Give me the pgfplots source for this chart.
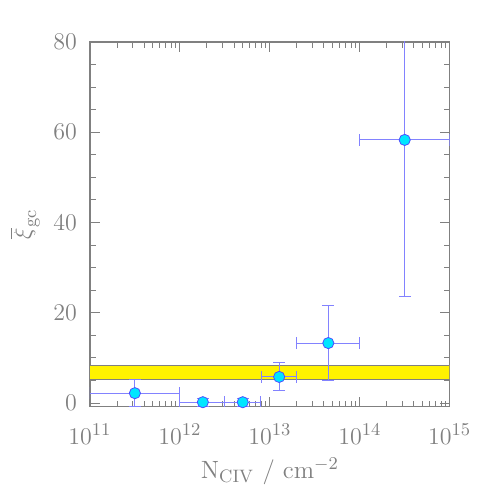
\documentclass[border=0pt]{standalone}
\usepackage{pgfplots}
\pgfplotsset{compat=1.18}

\definecolor{axgray}{RGB}{128,128,128}
\definecolor{errblue}{RGB}{130,130,255}
\definecolor{ptcyan}{RGB}{0,230,255}

\begin{document}
\begin{tikzpicture}
\begin{axis}[
  name=main,
  scale only axis,
  width=180pt, height=182.5pt,
  xmode=log,
  xmin=1e11, xmax=1e15,
  ymin=-0.8, ymax=80,
  ytick={0,20,40,60,80},
  minor ytick={5,10,15,25,30,35,45,50,55,65,70,75},
  tick align=inside,
  major tick length=5pt,
  minor tick length=3pt,
  axis line style={axgray, line width=0.6pt},
  every tick/.style={axgray, line width=0.5pt},
  tick label style={axgray},
  xticklabel style={yshift=-5pt},
  yticklabel style={xshift=-3pt},
  font=\fontsize{12.5}{14}\selectfont,
  label style={axgray},
  xlabel={N$_{\rm CIV}$ / cm$^{-2}$},
  ylabel={$\overline{\xi}_{\rm gc}$},
  xlabel style={yshift=0pt},
  clip=true,
]
% yellow band
\addplot[fill=yellow, draw=axgray, line width=0.5pt] coordinates {
  (1e11,5.3) (1e15,5.3) (1e15,8.4) (1e11,8.4)
} -- cycle;

% data: x, y, x+ , x-, y+, y-
\addplot[
  only marks,
  mark=*, mark size=2.8pt,
  mark options={fill=ptcyan, draw=blue!70, line width=0.4pt},
  error bars/.cd,
    x dir=both, x explicit,
    y dir=both, y explicit,
    error bar style={errblue, line width=0.5pt},
    error mark options={rotate=90, mark size=3pt, errblue, line width=0.5pt},
] table[x=x, y=y, x error plus=xp, x error minus=xm, y error plus=yp, y error minus=ym] {
  x        y     xp       xm       yp    ym
  3.16e11  2.2   6.84e11  2.16e11  3.1   3.0
  1.80e12  0.2   1.36e12  0.80e12  0.9   0.9
  5.00e12  0.2   2.9e12   1.84e12  0.9   0.9
  1.27e13  5.8   0.73e13  0.46e13  3.2   2.9
  4.47e13  13.3  5.53e13  2.47e13  8.4   8.2
  3.16e14  58.3  6.84e14  2.16e14  35.0  34.7
};
\end{axis}
\path ([xshift=-45pt,yshift=-42pt]main.south west) rectangle ([xshift=20.5pt,yshift=21pt]main.north east);
\end{tikzpicture}
\end{document}
